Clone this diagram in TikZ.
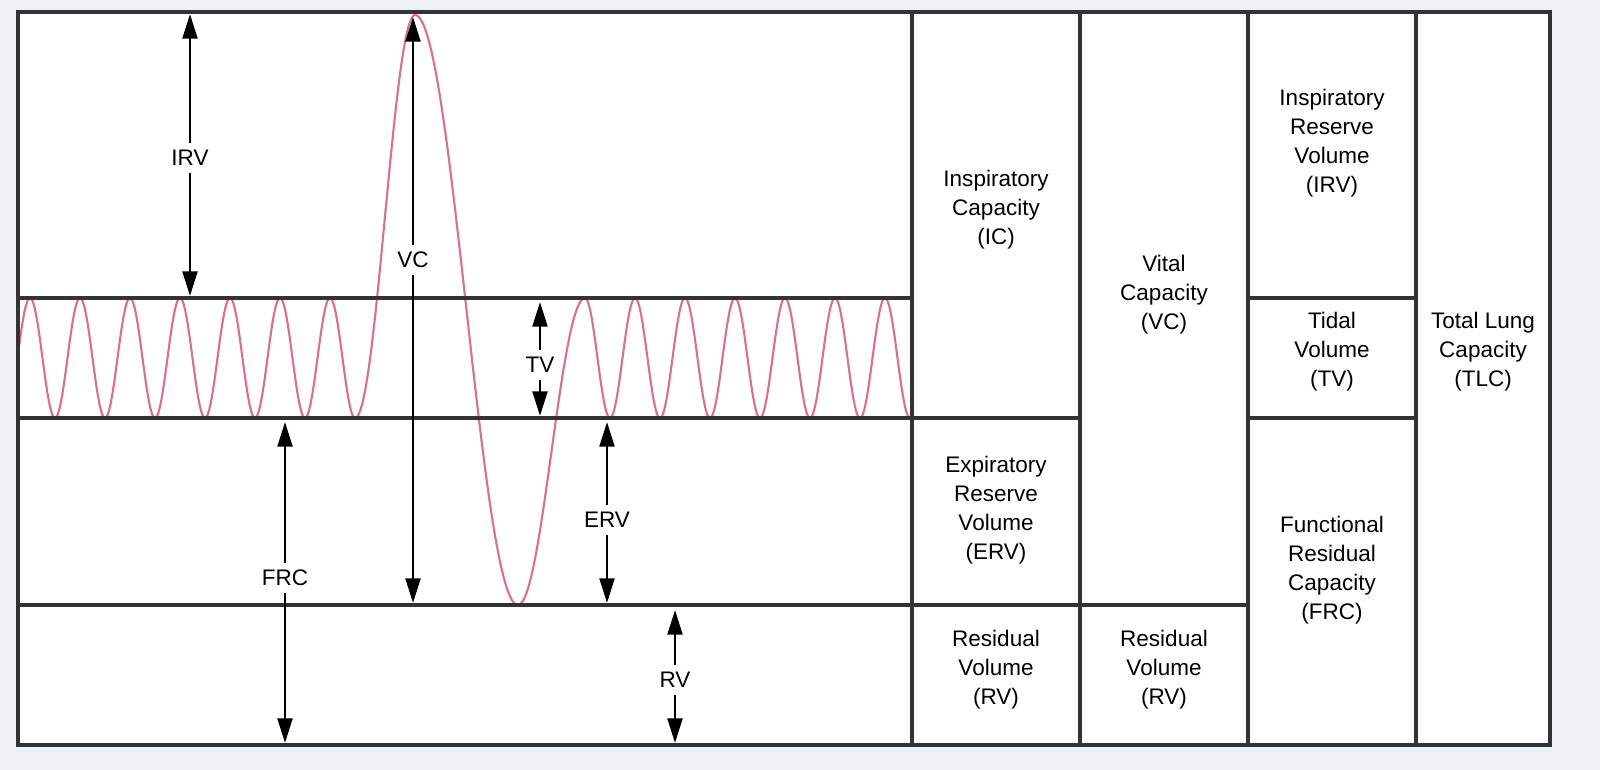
\documentclass[tikz,border=0pt]{standalone}
\usepackage{fontspec}
\setmainfont{Liberation Sans}
\usetikzlibrary{arrows.meta}
\definecolor{bg}{HTML}{EEF1F4}
\definecolor{wave}{HTML}{D9708F}
\definecolor{frame}{HTML}{333333}
\begin{document}
\begin{tikzpicture}[x=0.01cm,y=-0.01cm,
  ln/.style={frame,line width=0.9pt},
  dim/.style={line width=0.8pt,{Triangle[length=7pt,width=4.2pt]}-{Triangle[length=7pt,width=4.2pt]}},
  lab/.style={fill=white,inner sep=2pt,font=\fontsize{6.4}{8}\selectfont},
  box/.style={align=center,font=\fontsize{6.4}{8.2}\selectfont},
  wv/.style={wave,line width=0.6pt}]
\fill[bg] (0,0) rectangle (1600,770);
\fill[white] (18,12) rectangle (1550,745);
% waves
\draw[wv] plot[domain=18:355,samples=300] (\x,{358-60*cos(7.2*(\x-30))});
\draw[wv] plot[domain=355:415,samples=60] (\x,{216.5-201.5*cos(3*(\x-415))});
\draw[wv] plot[domain=415:518,samples=100] (\x,{310-295*cos(1.7476*(\x-415))});
\draw[wv] plot[domain=518:585,samples=60] (\x,{451.5+153.5*cos(2.6866*(\x-518))});
\draw[wv] plot[domain=585:910,samples=300] (\x,{358-60*cos(7.2*(\x-585))});
% frame
\draw[ln] (18,12) rectangle (1550,745);
\draw[ln] (912,12) -- (912,745);
\draw[ln] (1080,12) -- (1080,745);
\draw[ln] (1248,12) -- (1248,745);
\draw[ln] (1416,12) -- (1416,745);
\draw[ln] (18,298) -- (912,298);
\draw[ln] (1248,298) -- (1416,298);
\draw[ln] (18,418) -- (1080,418);
\draw[ln] (1248,418) -- (1416,418);
\draw[ln] (18,605) -- (1248,605);
% dimension arrows
\coordinate (irvT) at (190,14); \coordinate (irvB) at (190,296);
\draw[dim] (irvT) -- (irvB);
\node[lab] (irv) at (190,158) {IRV};
\coordinate (vcT) at (413,17); \coordinate (vcB) at (413,603);
\draw[dim] (vcT) -- (vcB);
\node[lab] (vc) at (413,260) {VC};
\coordinate (tvT) at (540,302); \coordinate (tvB) at (540,416);
\draw[dim] (tvT) -- (tvB);
\node[lab] (tv) at (540,365) {TV};
\coordinate (frcT) at (285,422); \coordinate (frcB) at (285,743);
\draw[dim] (frcT) -- (frcB);
\node[lab] (frc) at (285,578) {FRC};
\coordinate (erT) at (607,422); \coordinate (erB) at (607,603);
\draw[dim] (erT) -- (erB);
\node[lab] (erv) at (607,520) {ERV};
\coordinate (rvT) at (675,610); \coordinate (rvB) at (675,743);
\draw[dim] (rvT) -- (rvB);
\node[lab] (rv) at (675,680) {RV};
% table texts
\node[box] (ic) at (996,210) {Inspiratory\\Capacity\\(IC)};
\node[box] (erv2) at (996,510) {Expiratory\\Reserve\\Volume\\(ERV)};
\node[box] (rv1) at (996,670) {Residual\\Volume\\(RV)};
\node[box] (vc2) at (1164,295) {Vital\\Capacity\\(VC)};
\node[box] (rv2) at (1164,670) {Residual\\Volume\\(RV)};
\node[box] (irv2) at (1332,143) {Inspiratory\\Reserve\\Volume\\(IRV)};
\node[box] (tv2) at (1332,352) {Tidal\\Volume\\(TV)};
\node[box] (frc2) at (1332,570) {Functional\\Residual\\Capacity\\(FRC)};
\node[box] (tlc) at (1483,352) {Total Lung\\Capacity\\(TLC)};
\end{tikzpicture}
\end{document}
